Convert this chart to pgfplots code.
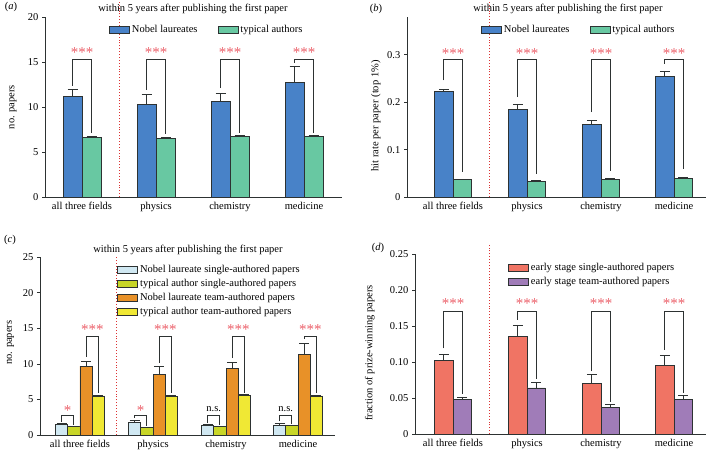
\documentclass[border=0pt]{standalone}
\usepackage{fontspec}
\setmainfont{Liberation Serif}
\usepackage{pgfplots}
\usepackage{pgfplotstable}
\pgfplotsset{compat=1.18}

\definecolor{nblue}{RGB}{72,130,200}
\definecolor{tgreen}{RGB}{104,200,162}
\definecolor{lblue}{RGB}{208,232,242}
\definecolor{ygreen}{RGB}{200,214,40}
\definecolor{orng}{RGB}{232,145,40}
\definecolor{ylw}{RGB}{240,232,52}
\definecolor{salmon}{RGB}{240,116,100}
\definecolor{purp}{RGB}{160,124,184}
\definecolor{edge}{RGB}{45,50,50}
\definecolor{starred}{RGB}{235,95,105}
\definecolor{divred}{RGB}{220,50,50}

\pgfplotsset{
  panel/.style={
    scale only axis, clip=false,
    axis x line*=bottom, axis y line*=left,
    axis line style={edge, line width=0.8pt},
    tick align=outside, major tick length=3pt,
    ytick style={edge, line width=0.8pt},
    xtick style={draw=none},
    tick label style={font=\fontsize{10.5}{12}\selectfont},
    xticklabel style={yshift=1.5pt},
    label style={font=\fontsize{10.5}{12}\selectfont},
    /pgf/number format/assume math mode=true,
    ymin=0,
    legend style={draw=none, fill=none, font=\fontsize{10.5}{12}\selectfont,
      inner sep=1pt},
    legend cell align=left,
  },
  bx/.style={ybar, bar width=#1, bar shift=0pt, draw=edge, line width=0.8pt,
    /pgfplots/error bars/y dir=plus, /pgfplots/error bars/y explicit,
    /pgfplots/error bars/error bar style={edge, line width=0.8pt},
    /pgfplots/error bars/error mark options={edge, rotate=90, mark size=5pt, line width=0.8pt},
  },
  boxlegend/.style={legend image code/.code={%
    \draw[##1, line width=0.8pt] (0pt,-3.5pt) rectangle (20pt,3.5pt);}},
}

\newcommand{\bracket}[5]{\addplot[edge, line width=0.8pt, mark=none, forget plot]
  coordinates {(#1,#2) (#1,#3) (#4,#3) (#4,#5)};}
\newcommand{\stars}[3]{\node[text=starred, font=\fontsize{15}{15}\selectfont]
  at (axis cs:#1,#2) {#3};}

% panel a: no. papers within 5 years (x = bar centres)
\pgfplotstableread{
xl    nl    nle   xr    ta    tae
72.5  11.18 0.74  91.5  6.62  0.11
146.5 10.29 1.08  165.5 6.51  0.15
220.5 10.62 0.93  239.5 6.70  0.10
294.5 12.74 1.76  313.5 6.70  0.13
}\tblA

% panel b: hit rate per paper
\pgfplotstableread{
xl     nl     nle    xr     ta     tae
443.85 0.2228 0.0035 462.15 0.0365 0.0015
517.85 0.1850 0.0100 536.15 0.0330 0.0015
591.85 0.1525 0.0090 610.15 0.0365 0.0020
664.85 0.2537 0.0113 683.15 0.0394 0.0015
}\tblB

% panel c: single vs team authored
\pgfplotstableread{
x1     ls   lse  x2     ts   tse  x3     lt    lte  x4     tt   tte
61.55  1.50 0.19 73.85  1.17 0.03 86.15  9.70  0.70 98.45  5.49 0.09
134.55 1.78 0.32 146.85 1.08 0.05 159.15 8.54  1.06 171.45 5.40 0.13
207.55 1.36 0.19 219.85 1.17 0.03 232.15 9.38  0.84 244.45 5.58 0.09
279.55 1.40 0.29 291.85 1.31 0.09 304.15 11.30 1.60 316.45 5.49 0.09
}\tblC

% panel d: fraction of prize-winning papers
\pgfplotstableread{
xl     s      se     xr     t      te
443.85 0.1023 0.0087 462.15 0.0486 0.0028
517.85 0.1356 0.0158 536.15 0.0639 0.0080
591.85 0.0699 0.0125 610.15 0.0366 0.0050
664.85 0.0949 0.0148 683.15 0.0477 0.0055
}\tblD

\begin{document}
\fontsize{10.5}{12.6}\selectfont
\begin{tikzpicture}
\useasboundingbox (0,0) rectangle (712pt,451pt);

% ---------------- (a)
\begin{axis}[panel, at={(45pt,254pt)}, anchor=south west,
  width=297pt, height=180pt, xmin=45, xmax=342, ymax=20,
  ytick={0,5,10,15,20},
  xtick={82,156,230,304},
  xticklabels={all three fields, physics, chemistry, medicine},
  ylabel={no. papers},
  ylabel style={at={(axis description cs:-0.108,0.5)}, anchor=center},
  legend columns=2,
  legend style={at={(axis description cs:0.212,0.929)}, anchor=west},
]
\addplot[bx=19, fill=nblue, boxlegend] table[x=xl, y=nl, y error=nle] {\tblA};
\addplot[bx=19, fill=tgreen, boxlegend] table[x=xr, y=ta, y error=tae] {\tblA};
\legend{Nobel laureates\hspace*{18pt}, typical authors}
\addplot[divred, dotted, line width=0.9pt, forget plot] coordinates {(119,0) (119,21.9)};
\bracket{72.5}{12.35}{15.33}{91.5}{7.1}
\bracket{146.5}{11.9}{15.33}{165.5}{7.0}
\bracket{220.5}{12.1}{15.33}{239.5}{7.1}
\bracket{294.5}{14.9}{15.33}{313.5}{7.1}
\stars{82}{16.0}{***}
\stars{156}{16.0}{***}
\stars{230}{16.0}{***}
\stars{304}{16.0}{***}
\node at (axis cs:193,20.9) {within 5 years after publishing the first paper};
\end{axis}

% ---------------- (b)
\begin{axis}[panel, at={(407pt,254pt)}, anchor=south west,
  width=299pt, height=180pt, xmin=407, xmax=706, ymax=0.38,
  ytick={0,0.1,0.2,0.3}, yticklabels={0,0.1,0.2,0.3},
  xtick={453,527,601,674},
  xticklabels={all three fields, physics, chemistry, medicine},
  ylabel={hit rate per paper (top 1\%)},
  ylabel style={at={(axis description cs:-0.104,0.45)}, anchor=center},
  legend columns=2,
  legend style={at={(axis description cs:0.244,0.929)}, anchor=west},
]
\addplot[bx=18.3, fill=nblue, boxlegend] table[x=xl, y=nl, y error=nle] {\tblB};
\addplot[bx=18.3, fill=tgreen, boxlegend] table[x=xr, y=ta, y error=tae] {\tblB};
\legend{Nobel laureates\hspace*{18pt}, typical authors}
\addplot[divred, dotted, line width=0.9pt, forget plot] coordinates {(489,0) (489,0.416)};
\bracket{443.85}{0.246}{0.2895}{462.15}{0.053}
\bracket{517.85}{0.211}{0.2895}{536.15}{0.049}
\bracket{591.85}{0.179}{0.2895}{610.15}{0.055}
\bracket{664.85}{0.281}{0.2895}{683.15}{0.060}
\stars{453}{0.303}{***}
\stars{527}{0.303}{***}
\stars{601}{0.303}{***}
\stars{674}{0.303}{***}
\node at (axis cs:568,0.397) {within 5 years after publishing the first paper};
\end{axis}

% ---------------- (c)
\begin{axis}[panel, at={(40pt,16pt)}, anchor=south west,
  width=295pt, height=177.7pt, xmin=40, xmax=335, ymax=25,
  ytick={0,5,10,15,20,25},
  xtick={80,153,226,298},
  xticklabels={all three fields, physics, chemistry, medicine},
  ylabel={no. papers},
  ylabel style={at={(axis description cs:-0.10,0.52)}, anchor=center},
  legend style={at={(axis description cs:0.258,0.974)}, anchor=north west,
    row sep=1.2pt},
]
\addplot[bx=12.3, fill=lblue, boxlegend] table[x=x1, y=ls, y error=lse] {\tblC};
\addplot[bx=12.3, fill=ygreen, boxlegend] table[x=x2, y=ts, y error=tse] {\tblC};
\addplot[bx=12.3, fill=orng, boxlegend] table[x=x3, y=lt, y error=lte] {\tblC};
\addplot[bx=12.3, fill=ylw, boxlegend] table[x=x4, y=tt, y error=tte] {\tblC};
\legend{Nobel laureate single-authored papers, typical author single-authored papers,
  Nobel laureate team-authored papers, typical author team-authored papers}
\addplot[divred, dotted, line width=0.9pt, forget plot] coordinates {(116,0) (116,25)};
% small brackets
\bracket{61.55}{1.87}{2.8}{73.85}{1.35}
\bracket{134.55}{2.4}{2.8}{146.85}{1.3}
\bracket{207.55}{1.75}{2.8}{219.85}{1.35}
\bracket{279.55}{1.9}{2.8}{291.85}{1.5}
\stars{67.7}{3.5}{*}
\stars{140.7}{3.5}{*}
\node at (axis cs:213.7,3.7) {n.s.};
\node at (axis cs:285.7,3.7) {n.s.};
% big brackets
\bracket{86.15}{11.0}{13.93}{98.45}{5.86}
\bracket{159.15}{10.1}{13.93}{171.45}{5.86}
\bracket{232.15}{10.8}{13.93}{244.45}{5.86}
\bracket{304.15}{13.5}{13.93}{316.45}{5.86}
\stars{92.3}{14.85}{***}
\stars{165.3}{14.85}{***}
\stars{238.3}{14.85}{***}
\stars{310.3}{14.85}{***}
\node at (axis cs:188,26.0) {within 5 years after publishing the first paper};
\end{axis}

% ---------------- (d)
\begin{axis}[panel, at={(415pt,17pt)}, anchor=south west,
  width=291pt, height=180pt, xmin=415, xmax=706, ymax=0.25,
  ytick={0,0.05,0.10,0.15,0.20,0.25},
  yticklabels={0,0.05,0.10,0.15,0.20,0.25},
  xtick={453,527,601,674},
  xticklabels={all three fields, physics, chemistry, medicine},
  ylabel={fraction of prize-winning papers},
  ylabel style={at={(axis description cs:-0.155,0.45)}, anchor=center},
  legend style={at={(axis description cs:0.316,0.967)}, anchor=north west,
    row sep=1.2pt},
]
\addplot[bx=18.3, fill=salmon, boxlegend] table[x=xl, y=s, y error=se] {\tblD};
\addplot[bx=18.3, fill=purp, boxlegend] table[x=xr, y=t, y error=te] {\tblD};
\legend{early stage single-authored papers, early stage team-authored papers}
\addplot[divred, dotted, line width=0.9pt, forget plot] coordinates {(489,0) (489,0.265)};
\bracket{443.85}{0.119}{0.1704}{462.15}{0.0556}
\bracket{517.85}{0.159}{0.1704}{536.15}{0.077}
\bracket{591.85}{0.087}{0.1704}{610.15}{0.044}
\bracket{664.85}{0.117}{0.1704}{683.15}{0.057}
\stars{453}{0.181}{***}
\stars{527}{0.181}{***}
\stars{601}{0.181}{***}
\stars{674}{0.181}{***}
\end{axis}

\node at (11pt,444pt) {(\textit{a})};
\node at (376pt,442pt) {(\textit{b})};
\node at (10pt,211pt) {(\textit{c})};
\node at (378pt,203pt) {(\textit{d})};
\end{tikzpicture}
\end{document}
